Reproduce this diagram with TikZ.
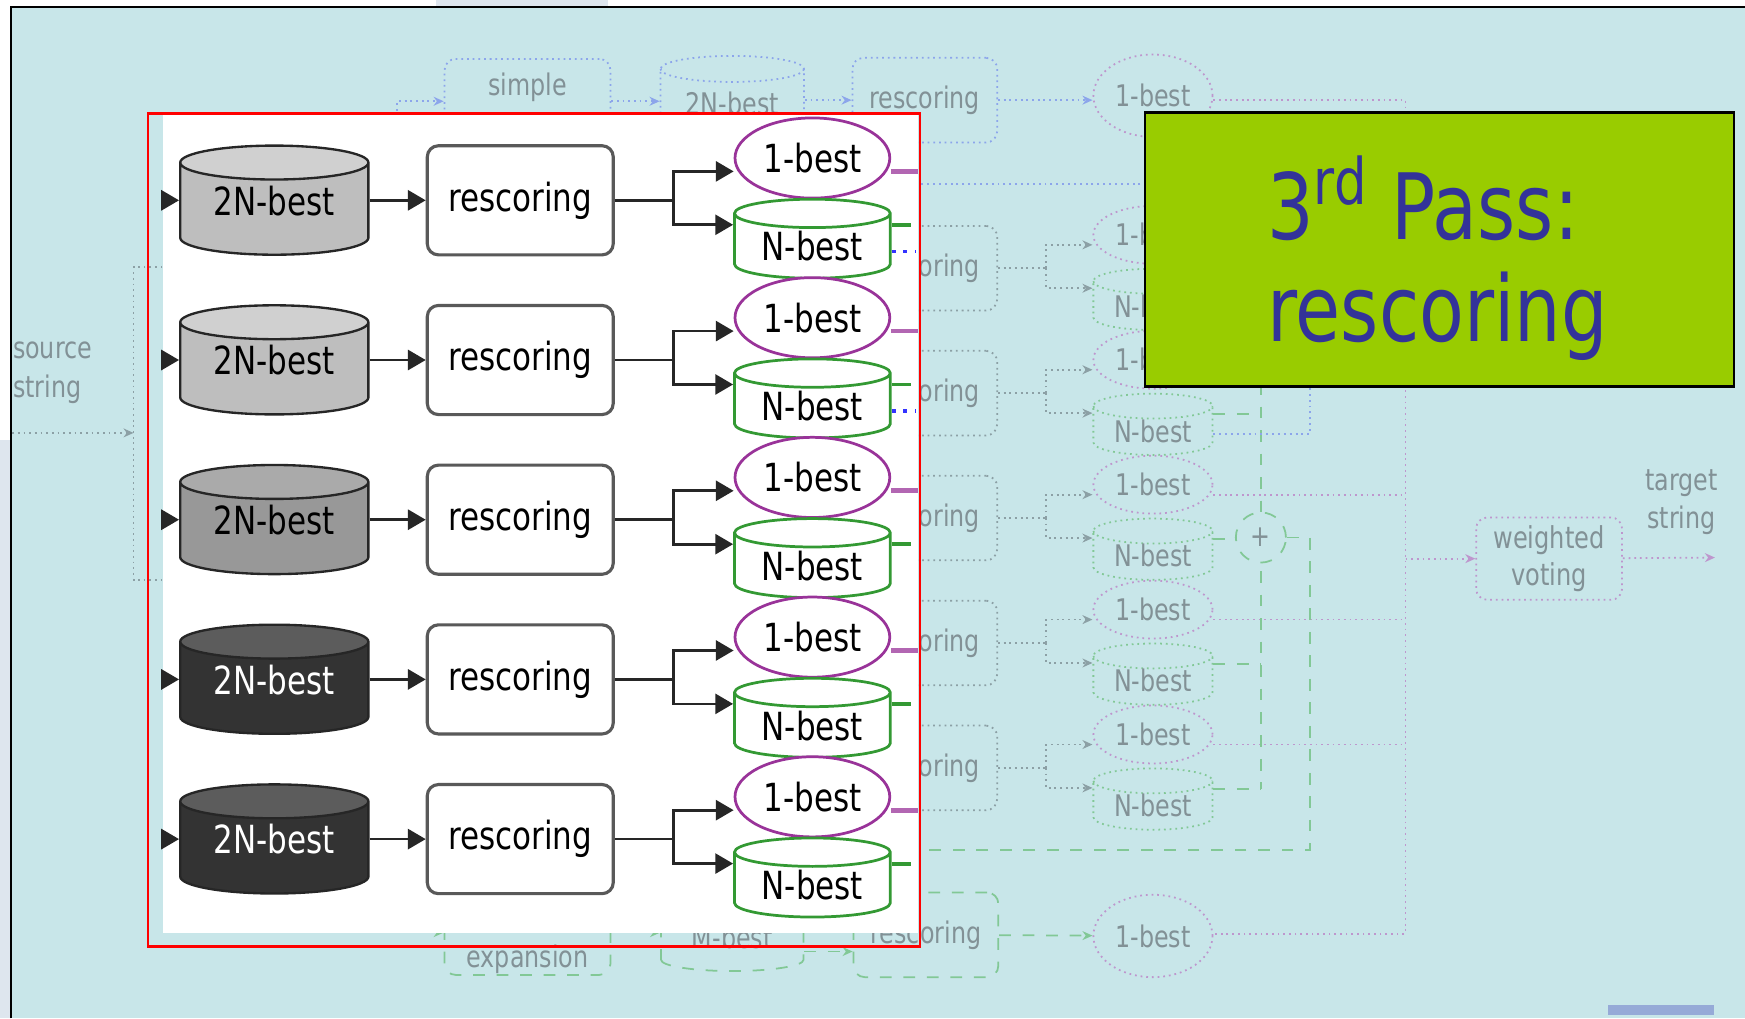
\documentclass[tikz,border=0pt]{standalone}
\usepackage{fontspec}
\usepackage{xcolor}
\usepackage{tikz}
\usetikzlibrary{shapes.geometric}
\usetikzlibrary{arrows.meta}
\usetikzlibrary{positioning}

\newfontfamily\slidefont[FakeStretch=0.8]{DejaVu Sans}

\definecolor{slidebg}{RGB}{200,230,233}
\definecolor{slideedge}{RGB}{222,230,238}
\definecolor{footcol}{RGB}{150,170,215}
\definecolor{passgreen}{RGB}{153,204,0}
\definecolor{passblue}{RGB}{51,51,153}
\definecolor{onecol}{RGB}{153,51,153}
\definecolor{ncol}{RGB}{51,153,51}
\definecolor{bluecol}{RGB}{51,51,255}
\definecolor{dblight}{RGB}{190,190,190}
\definecolor{dblighttop}{RGB}{208,208,208}
\definecolor{dbmid}{RGB}{152,152,152}
\definecolor{dbmidtop}{RGB}{170,170,170}
\definecolor{dbdark}{RGB}{51,51,51}
\definecolor{dbdarktop}{RGB}{92,92,92}
\definecolor{fadetext}{RGB}{130,145,150}
\definecolor{fadeline}{RGB}{140,160,165}
\definecolor{fadeone}{RGB}{190,150,205}
\definecolor{fadegreen}{RGB}{130,200,150}
\definecolor{fadeblue}{RGB}{140,165,235}

\begin{document}
\begin{tikzpicture}[
  x=0.01cm, y=-0.01cm,
  every node/.style={font=\slidefont\fontsize{9.9}{11}\selectfont, inner sep=0pt},
  fadefont/.style={font=\slidefont\fontsize{7.6}{9.8}\selectfont, text=fadetext},
  dbnode/.style={cylinder, shape border rotate=90, aspect=0.28, draw=black!85,
    line width=0.6pt, cylinder uses custom fill, text depth=0.16cm,
    minimum width=1.69cm, minimum height=0.98cm},
  scorebox/.style={rectangle, rounded corners=0.1cm, draw=black!65, fill=white,
    line width=0.8pt, minimum width=1.67cm, minimum height=0.98cm},
  onebest/.style={ellipse, draw=onecol, fill=white, line width=0.7pt,
    minimum width=1.39cm, minimum height=0.72cm},
  nbest/.style={cylinder, shape border rotate=90, aspect=0.28, draw=ncol,
    fill=white, line width=0.7pt, minimum width=1.40cm, minimum height=0.71cm},
  wire/.style={line width=0.7pt, black!85},
  link/.style={wire, -{Triangle[length=0.16cm,width=0.18cm]}},
  fadebox/.style={fadefont, rectangle, rounded corners=0.1cm, densely dotted,
    line width=0.45pt, minimum width=1.30cm, minimum height=0.76cm},
  fadeell/.style={fadefont, ellipse, draw=fadeone, densely dotted, line width=0.45pt,
    minimum width=1.07cm, minimum height=0.52cm},
  fadedb/.style={fadefont, cylinder, shape border rotate=90, aspect=0.32,
    densely dotted, line width=0.45pt, minimum width=1.07cm, minimum height=0.53cm},
  fadewire/.style={densely dotted, line width=0.45pt},
  fadelink/.style={fadewire, -{Stealth[length=0.09cm,width=0.08cm]}},
]
% slide background
\fill[white] (0,0) rectangle (1568,915);
\useasboundingbox (0,0) rectangle (1568,915);
\fill[slideedge] (0,395) rectangle (9,915);
\fill[slideedge] (392,0) rectangle (546,5);
\fill[slidebg] (10,6) rectangle (1568,915);
\draw[line width=0.6pt] (10,915) -- (10,6) -- (1568,6);

% faded full system behind the panel
\node[fadefont, align=left, anchor=west] (srctxt) at (11,335) {source\\string};
\coordinate (srcin) at (11,389);
\coordinate (srcbus) at (120,389);
\draw[fadelink, fadeline] (srcin) -- (srcbus);
\draw[fadewire, fadeline] (146,240) -- (120,240) -- (120,521) -- (146,521);

\node[fadebox, draw=fadeblue, minimum width=1.49cm] (fsimple) at (474,91) {};
\node[fadefont] (simpletxt) at (474,78) {simple};
\node[fadedb, draw=fadeblue, minimum width=1.29cm, minimum height=0.73cm, aspect=0.28] (f2n) at (658,93) {2N-best};
\node[fadebox, draw=fadeblue] (ftopres) at (831,90) {rescoring};
\node[fadeell, minimum height=0.74cm] (ftopone) at (1036,86) {1-best};
\coordinate (simplein) at (357,120);
\draw[fadelink, fadeblue] (simplein) |- (fsimple.west);
\draw[fadelink, fadeblue] (fsimple) -- (f2n.west |- fsimple);
\draw[fadelink, fadeblue] (f2n.east |- ftopres) -- (ftopres);
\draw[fadelink, fadeblue] (ftopres.east) -- (ftopres.east -| ftopone.west);

\node[fadebox, draw=fadegreen, dashed, minimum width=1.49cm] (fexp) at (474,838) {};
\node[fadefont] (exptxt) at (474,862) {expansion};
\node[fadedb, draw=fadegreen, dashed, minimum width=1.28cm, minimum height=0.72cm, aspect=0.28] (fmb) at (658,842) {M-best};
\node[fadebox, draw=fadegreen, dashed] (fbotres) at (832,840) {rescoring};
\node[fadeell, minimum height=0.74cm] (fbotone) at (1036,841) {1-best};
\coordinate (expin) at (345,838);
\draw[fadelink, fadegreen, dashed] (expin) -- (fexp.west);
\draw[fadelink, fadegreen, dashed] (fexp) -- (fmb.west |- fexp);
\draw[fadelink, fadegreen, dashed] ([yshift=-0.13cm]fmb.east) -- ([yshift=-0.13cm]fmb.east -| fbotres.west);
\draw[fadelink, fadegreen, dashed] (fbotres) -- (fbotone);

\coordinate (busT) at (1263,90);
\coordinate (busB) at (1263,839);
\coordinate (plusc) at (1133,483);
\draw[fadewire, fadeone] (ftopone.east |- busT) -- (busT) -- (busB) -- (fbotone.east |- busB);

\foreach \r in {1,...,5}{
  \pgfmathsetmacro\yb{241+112.25*(\r-1)}
  \node[fadebox, draw=fadeline] (fres\r) at (831,\yb) {rescoring};
  \node[fadeell] (fone\r) at (1036,\yb-30) {1-best};
  \node[fadedb, draw=fadegreen] (fnb\r) at (1036,\yb+34) {N-best};
  \coordinate (fsp\r) at (940,\yb);
  \draw[fadewire, fadeline] (fres\r) -- (fsp\r);
  \draw[fadelink, fadeline] (fsp\r) |- ([yshift=-0.09cm]fone\r.west);
  \draw[fadelink, fadeline] (fsp\r) |- ([yshift=0.16cm]fnb\r.west);
  \draw[fadewire, fadeone] ([yshift=-0.09cm]fone\r.east) -- ([yshift=-0.09cm]fone\r.east -| busT);
  \draw[dashed, line width=0.45pt, fadegreen] ([yshift=0.15cm]fnb\r.east) -- ([yshift=0.15cm]fnb\r.east -| plusc);
}
\draw[dashed, line width=0.45pt, fadegreen] ([yshift=0.15cm]fnb1.east -| plusc) -- ([yshift=0.15cm]fnb5.east -| plusc);
\node[fadefont, circle, draw=fadegreen, dashed, fill=slidebg, line width=0.45pt, minimum size=0.45cm] (plus) at (plusc) {+};
\coordinate (gturn) at (1177,764);
\coordinate (gleft) at (825,764);
\draw[dashed, line width=0.45pt, fadegreen] (plus) -| (gturn) -- (gleft);
\coordinate (bturn) at (1177,165);
\coordinate (bleft) at (825,165);
\draw[fadewire, fadeblue, line width=0.5pt] ([yshift=-0.03cm]fnb2.east) -| (bturn) -- (bleft);

\node[fadebox, draw=fadeone, align=center, font=\slidefont\fontsize{7.7}{9.7}\selectfont,
  minimum width=1.31cm, minimum height=0.74cm] (vote) at (1392,502) {weighted\\voting};
\draw[fadelink, fadeone] (busT |- vote.west) -- (vote.west);
\coordinate (tgt) at (1541,501);
\draw[fadelink, fadeone] (vote) -- (tgt);
\node[fadefont, align=center] (tgttxt) at (1511,451) {target\\string};
\fill[footcol] (1445,903) rectangle (1540,912);

% third pass panel
\node[fill=white, minimum width=6.78cm, minimum height=7.35cm, anchor=north west] (panel) at (146,102) {};
\node[draw=red, line width=0.6pt, minimum width=6.93cm, minimum height=7.48cm, anchor=north west] (frame) at (132,101) {};

\foreach \i/\bodyc/\topc/\ink in {1/dblight/dblighttop/black, 2/dblight/dblighttop/black,
    3/dbmid/dbmidtop/black, 4/dbdark/dbdarktop/white, 5/dbdark/dbdarktop/white}{
  \pgfmathsetmacro\yc{180+143.5*(\i-1)}
  \node[dbnode, cylinder body fill=\bodyc, cylinder end fill=\topc, text=\ink] (db\i) at (246.5,\yc+8) {2N-best};
  \node[scorebox] (rs\i) at (467.5,\yc) {rescoring};
  \node[onebest] (one\i) at (730,\yc-38) {1-best};
  \node[nbest] (nb\i) at (730,\yc+41.5) {N-best};
  \coordinate (in\i) at (146,\yc);
  \coordinate (sp\i) at (605,\yc);
  \draw[link] (in\i) -- (in\i -| db\i.west);
  \draw[link] (rs\i.west -| db\i.east) -- (rs\i);
  \draw[wire] (rs\i) -- (sp\i);
  \draw[link] (sp\i) |- ([yshift=-0.12cm]one\i.west);
  \draw[link] (sp\i) |- ([yshift=0.195cm]nb\i.west);
  \draw[onecol!75, line width=1.2pt] ([yshift=-0.12cm]one\i.east) -- ++(24,0);
  \draw[ncol, line width=1pt, dash pattern=on 5pt off 4pt] ([yshift=0.195cm]nb\i.east) -- ++(24,0);
}
\foreach \i in {1,2}
  \draw[bluecol, line width=1pt, dotted] ([yshift=-0.045cm]nb\i.east) -- ++(22,0);

% title box
\node[draw=black, line width=0.7pt, fill=passgreen, minimum width=5.29cm, minimum height=2.46cm] (passbox) at (1293.5,224) {};
\node[font=\slidefont\fontsize{23.4}{26}\selectfont, text=passblue, align=left, anchor=north west] (passtitle) at (1138,139) {3\textsuperscript{rd} Pass:\\rescoring};
\end{tikzpicture}
\end{document}
